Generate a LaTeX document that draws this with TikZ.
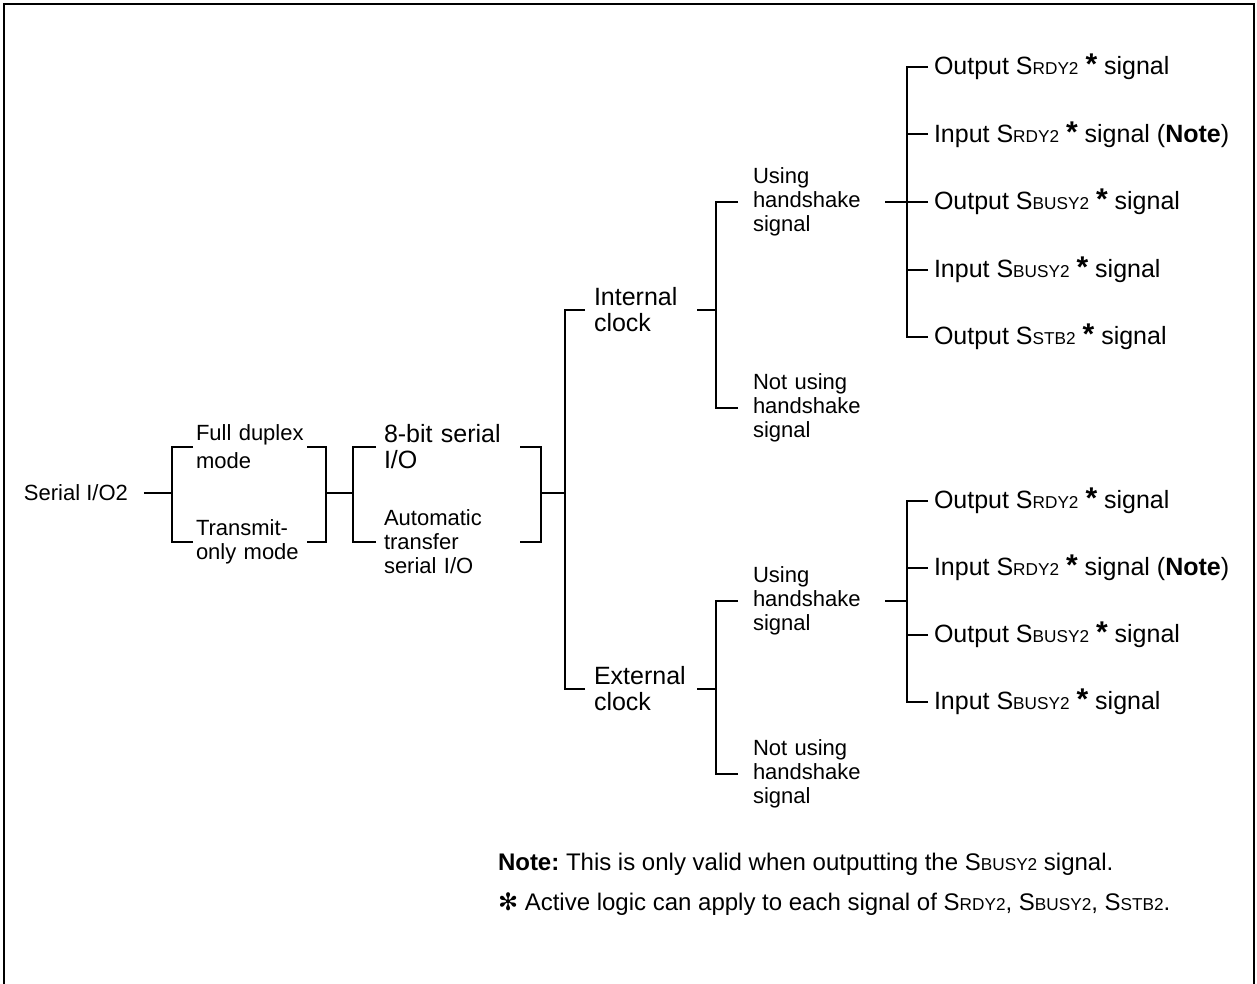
\documentclass[tikz,border=0pt]{standalone}
\usepackage{fontspec}
\setmainfont{Liberation Sans}
\newfontfamily\symfont{DejaVu Sans}
\usepackage{tikz}
\usetikzlibrary{positioning}
\newcommand{\pin}[1]{S{\fontsize{8.6}{9}\selectfont #1}}
\newcommand{\actmark}{{\fontsize{15}{15}\selectfont\bfseries *}}
\tikzstyle{lbl} = [anchor=west, align=left, inner ysep=2pt, font=\fontsize{11}{12}\selectfont]
\tikzstyle{biglbl} = [lbl, font=\fontsize{12.5}{13}\selectfont]
\tikzstyle{modecol} = [inner xsep=1pt, text width=54pt]
\tikzstyle{typecol} = [inner xsep=3.5pt, text width=64pt]
\tikzstyle{clockcol} = [inner xsep=4pt, text width=47pt]
\tikzstyle{hscol} = [inner xsep=7pt, text width=58.5pt]
\tikzstyle{sigitem} = [anchor=west, inner xsep=2.5pt, font=\fontsize{12.5}{13}\selectfont]
\tikzstyle{footnote} = [anchor=west, inner sep=0pt, font=\fontsize{12}{14}\selectfont]

\begin{document}
\frenchspacing
\begin{tikzpicture}[x=0.5pt, y=-0.5pt, line width=1pt]
\useasboundingbox (0,0) rectangle (1257,984);
\draw[line width=1.1pt] (4,984) -- (4,4) -- (1254,4) -- (1254,984);

% tree labels
\node[lbl, inner xsep=7.5pt] (serial) at (8,493) {Serial I/O2};
\node[lbl, modecol] (fullmode) at (193,447) {Full duplex\\[2pt]mode};
\node[lbl, modecol] (txmode) at (193,542) {Transmit-\\only mode};
\node[biglbl, typecol] (eightbit) at (376,447) {8-bit serial\\I/O};
\node[lbl, typecol] (autoxfer) at (376,542) {Automatic\\transfer\\serial I/O};
\node[biglbl, clockcol] (intclk) at (585,310) {Internal\\clock};
\node[biglbl, clockcol] (extclk) at (585,689) {External\\clock};
\node[lbl, hscol] (hsint) at (738,202) {Using\\handshake\\signal};
\node[lbl, hscol] (nohsint) at (738,408) {Not using\\handshake\\signal};
\node[lbl, hscol] (hsext) at (738,601) {Using\\handshake\\signal};
\node[lbl, hscol] (nohsext) at (738,774) {Not using\\handshake\\signal};

% signals, internal clock
\node[sigitem] (outrdyint) at (928,67) {Output \pin{RDY2} \actmark{} signal};
\node[sigitem] (inrdyint) at (928,134.5) {Input \pin{RDY2} \actmark{} signal (\textbf{Note})};
\node[sigitem] (outbusyint) at (928,202) {Output \pin{BUSY2} \actmark{} signal};
\node[sigitem] (inbusyint) at (928,269.5) {Input \pin{BUSY2} \actmark{} signal};
\node[sigitem] (outstbint) at (928,337) {Output \pin{STB2} \actmark{} signal};

% signals, external clock
\node[sigitem] (outrdyext) at (928,501) {Output \pin{RDY2} \actmark{} signal};
\node[sigitem] (inrdyext) at (928,568) {Input \pin{RDY2} \actmark{} signal (\textbf{Note})};
\node[sigitem] (outbusyext) at (928,635) {Output \pin{BUSY2} \actmark{} signal};
\node[sigitem] (inbusyext) at (928,702) {Input \pin{BUSY2} \actmark{} signal};

\node[footnote] (note) at (497,864) {\textbf{Note:} This is only valid when outputting the \pin{BUSY2} signal.};
\node[footnote] (actnote) at (497,904) {{\symfont ✻} Active logic can apply to each signal of \pin{RDY2}, \pin{BUSY2}, \pin{STB2}.};

% bracket joints
\coordinate (modein) at (172,493);
\coordinate (modeout) at (326,493);
\coordinate (typein) at (353,493);
\coordinate (typeout) at (541,493);
\coordinate (clockin) at (565,493);
\coordinate (intjoin) at (716,310);
\coordinate (extjoin) at (716,689);
\coordinate (intsig) at (907,202);
\coordinate (extsig) at (907,601);

\draw (serial.east) -- (modein);
\draw (fullmode.west) -| (modein);
\draw (txmode.west) -| (modein);
\draw (fullmode.east) -| (modeout);
\draw (txmode.east) -| (modeout);
\draw (modeout) -- (typein);
\draw (eightbit.west) -| (typein);
\draw (autoxfer.west) -| (typein);
\draw (eightbit.east) -| (typeout);
\draw (autoxfer.east) -| (typeout);
\draw (typeout) -- (clockin);
\draw (intclk.west) -| (clockin);
\draw (extclk.west) -| (clockin);

\draw (intclk.east) -- (intjoin);
\draw (hsint.west) -| (intjoin);
\draw (nohsint.west) -| (intjoin);
\draw (extclk.east) -- (extjoin);
\draw (hsext.west) -| (extjoin);
\draw (nohsext.west) -| (extjoin);

\draw (hsint.east) -- (intsig);
\draw (outrdyint.west) -| (intsig);
\draw (inrdyint.west) -| (intsig);
\draw (outbusyint.west) -- (intsig);
\draw (inbusyint.west) -| (intsig);
\draw (outstbint.west) -| (intsig);

\draw (hsext.east) -- (extsig);
\draw (outrdyext.west) -| (extsig);
\draw (inrdyext.west) -| (extsig);
\draw (outbusyext.west) -| (extsig);
\draw (inbusyext.west) -| (extsig);
\end{tikzpicture}
\end{document}
